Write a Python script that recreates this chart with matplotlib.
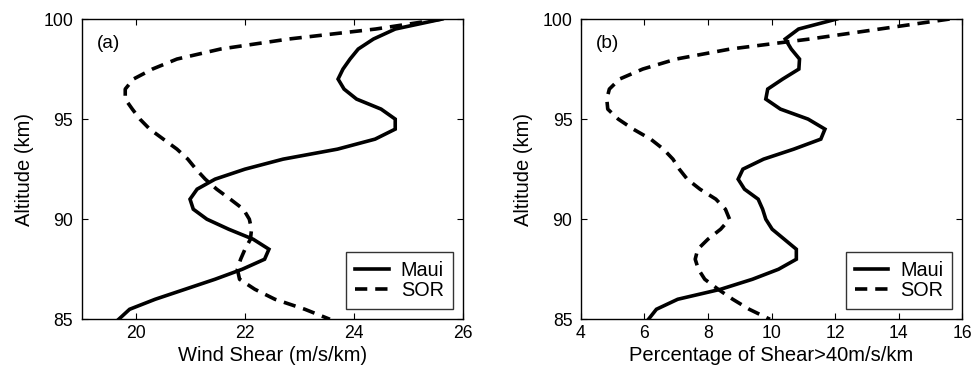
import numpy as np
import matplotlib
matplotlib.use("Agg")
import matplotlib.pyplot as plt

plt.rcParams['font.family'] = ['Liberation Sans', 'DejaVu Sans']

altitude = np.arange(100, 84.9, -0.5)

maui_shear = [25.62, 24.76, 24.36, 24.08, 23.93, 23.80, 23.71, 23.82, 24.05, 24.5,
              24.76, 24.76, 24.39, 23.7, 22.7, 22.0, 21.45, 21.12, 20.99, 21.05,
              21.3, 21.7, 22.15, 22.44, 22.36, 21.95, 21.45, 20.9, 20.35, 19.88, 19.68]
sor_shear = [25.62, 24.4, 22.8, 21.55, 20.75, 20.3, 19.95, 19.8, 19.8, 19.93,
             20.07, 20.25, 20.5, 20.75, 20.95, 21.1, 21.27, 21.48, 21.73, 21.97,
             22.08, 22.12, 22.1, 22.0, 21.92, 21.86, 21.9, 22.18, 22.55, 23.1, 23.56]

maui_pct = [12.05, 10.85, 10.43, 10.62, 10.88, 10.86, 10.35, 9.88, 9.82, 10.28,
            11.15, 11.68, 11.55, 10.7, 9.75, 9.1, 8.95, 9.15, 9.58, 9.72,
            9.82, 10.02, 10.4, 10.78, 10.78, 10.22, 9.4, 8.4, 7.05, 6.38, 6.13]
sor_pct = [15.6, 13.4, 11.2, 8.7, 7.0, 5.95, 5.22, 4.9, 4.82, 4.85,
           5.18, 5.65, 6.2, 6.6, 6.9, 7.1, 7.35, 7.75, 8.25, 8.55,
           8.68, 8.4, 8.0, 7.68, 7.6, 7.7, 7.9, 8.32, 8.78, 9.3, 9.95]

yticks = [85, 90, 95, 100]
xticks_a = [20, 22, 24, 26]
xticks_b = [4, 6, 8, 10, 12, 14, 16]

fig = plt.figure(figsize=(9.76, 3.73), dpi=100)
ax1 = fig.add_axes([0.0837, 0.144, 0.3904, 0.805])
ax2 = fig.add_axes([0.595, 0.144, 0.391, 0.805])

lw = 2.6
dash = (0, (3.4, 2.2))
fs_tick = 12.7
fs_lab = 14.5
fs_leg = 14.3
fs_tag = 13.7

panels = [
    (ax1, maui_shear, sor_shear, (19, 26), xticks_a, 'Wind Shear (m/s/km)', '(a)'),
    (ax2, maui_pct, sor_pct, (4, 16), xticks_b, 'Percentage of Shear>40m/s/km', '(b)'),
]
for ax, m, s, xl, xt, xlab, tag in panels:
    ax.plot(m, altitude, color='black', lw=lw, solid_joinstyle='miter', label='Maui')
    ax.plot(s, altitude, color='black', lw=lw, linestyle=dash, label='SOR')
    ax.set_xlim(*xl)
    ax.set_ylim(85, 100)
    ax.set_xticks(xt)
    ax.set_yticks(yticks)
    ax.tick_params(direction='in', top=True, right=True, length=4, width=0.8,
                   labelsize=fs_tick)
    ax.tick_params(axis='x', pad=4)
    ax.tick_params(axis='y', pad=6)
    for sp in ax.spines.values():
        sp.set_linewidth(1.0)
    ax.set_xlabel(xlab, fontsize=fs_lab, labelpad=3)
    ax.set_ylabel('Altitude (km)', fontsize=fs_lab, labelpad=7)
    ax.text(0.04, 0.92, tag, transform=ax.transAxes, fontsize=fs_tag,
            va='center', ha='left')
    leg = ax.legend(loc='lower right', fontsize=fs_leg, frameon=True, fancybox=False,
                    edgecolor='black', handlelength=1.7, handletextpad=0.6,
                    borderpad=0.45, labelspacing=0.05, borderaxespad=0.5)
    leg.get_frame().set_linewidth(1.0)

fig.savefig('out.png', dpi=100)
